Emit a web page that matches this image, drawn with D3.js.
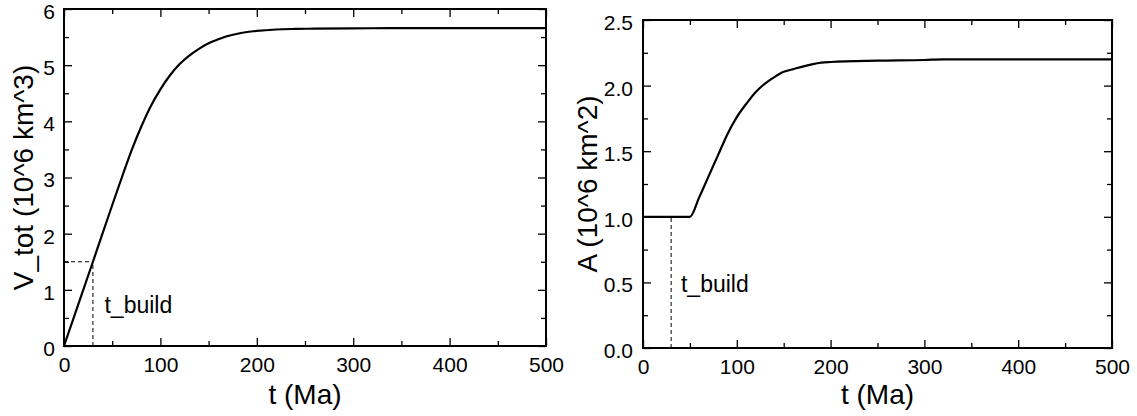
<!DOCTYPE html>
<html>
<head>
<meta charset="utf-8">
<script src="https://cdn.jsdelivr.net/npm/d3@7"></script>
<style>
  html, body { margin: 0; padding: 0; background: #fff; }
  svg { display: block; font-family: "Liberation Sans", Arial, Helvetica, sans-serif; }
</style>
</head>
<body>
<svg id="chart" width="1137" height="416"></svg>
<script>
// ---- Data ----
const tV = [0, 30, 60, 70, 80, 90, 100, 110, 120, 130, 140, 150, 160, 170, 180, 190, 200, 220, 240, 260, 300, 340, 400, 500];
const vTot = [0, 1.5, 3.0, 3.48, 3.9, 4.27, 4.57, 4.82, 5.02, 5.17, 5.29, 5.39, 5.46, 5.52, 5.56, 5.59, 5.61, 5.635, 5.645, 5.65, 5.655, 5.66, 5.66, 5.66];

const tA = [0, 50, 60, 70, 80, 90, 100, 110, 120, 130, 140, 150, 160, 170, 180, 190, 200, 250, 300, 320, 500];
const areaA = [1.0, 1.0, 1.15, 1.31, 1.47, 1.63, 1.76, 1.86, 1.95, 2.015, 2.065, 2.105, 2.125, 2.145, 2.162, 2.175, 2.18, 2.19, 2.195, 2.2, 2.2];

const tBuild = 30;
const vAtBuild = 1.5;
const aAtBuild = 1.0;

const xMajorTicks = [0, 100, 200, 300, 400, 500];
const xMinorTicks = [50, 150, 250, 350, 450];
const vMajorTicks = [0, 1, 2, 3, 4, 5, 6];
const vMinorTicks = [0.5, 1.5, 2.5, 3.5, 4.5, 5.5];
const aMajorTicks = [0, 0.5, 1.0, 1.5, 2.0, 2.5];
const aMinorTicks = [0.25, 0.75, 1.25, 1.75, 2.25];

const xTitle = "t (Ma)";
const vTitle = "V_tot (10^6 km^3)";
const aTitle = "A (10^6 km^2)";
const buildLabel = "t_build";

// ---- Drawing ----
const svg = d3.select("#chart");

function panel(opts) {
  const x = d3.scaleLinear().domain([0, 500]).range([opts.left, opts.right]);
  const y = d3.scaleLinear().domain(opts.yDomain).range([opts.bottom, opts.top]);
  const g = svg.append("g");
  const MAJ = 8, MIN = 5, FS = "21px";

  function styleAxis(sel) {
    sel.selectAll("path.domain").remove();
    sel.selectAll("line").attr("stroke", "#000").attr("stroke-width", 1.3);
    sel.selectAll("text").attr("fill", "#000").style("font-size", FS)
      .style("font-family", "'Liberation Sans', Arial, sans-serif");
  }

  // bottom
  g.append("g").attr("transform", `translate(0,${opts.bottom})`)
    .call(d3.axisBottom(x).tickValues(xMajorTicks).tickSizeInner(-MAJ).tickSizeOuter(0).tickPadding(11).tickFormat(d3.format("d")))
    .call(styleAxis);
  g.append("g").attr("transform", `translate(0,${opts.bottom})`)
    .call(d3.axisBottom(x).tickValues(xMinorTicks).tickSizeInner(-MIN).tickSizeOuter(0).tickFormat(""))
    .call(styleAxis);
  // top
  g.append("g").attr("transform", `translate(0,${opts.top})`)
    .call(d3.axisTop(x).tickValues(xMajorTicks).tickSizeInner(-MAJ).tickSizeOuter(0).tickFormat(""))
    .call(styleAxis);
  g.append("g").attr("transform", `translate(0,${opts.top})`)
    .call(d3.axisTop(x).tickValues(xMinorTicks).tickSizeInner(-MIN).tickSizeOuter(0).tickFormat(""))
    .call(styleAxis);
  // left
  g.append("g").attr("transform", `translate(${opts.left},0)`)
    .call(d3.axisLeft(y).tickValues(opts.yMajor).tickSizeInner(-MAJ).tickSizeOuter(0).tickPadding(opts.yPad).tickFormat(opts.yFmt))
    .call(styleAxis)
    .call(s => s.selectAll("text").attr("dy", "0.45em"));
  g.append("g").attr("transform", `translate(${opts.left},0)`)
    .call(d3.axisLeft(y).tickValues(opts.yMinor).tickSizeInner(-MIN).tickSizeOuter(0).tickFormat(""))
    .call(styleAxis);
  // right
  g.append("g").attr("transform", `translate(${opts.right},0)`)
    .call(d3.axisRight(y).tickValues(opts.yMajor).tickSizeInner(-MAJ).tickSizeOuter(0).tickFormat(""))
    .call(styleAxis);
  g.append("g").attr("transform", `translate(${opts.right},0)`)
    .call(d3.axisRight(y).tickValues(opts.yMinor).tickSizeInner(-MIN).tickSizeOuter(0).tickFormat(""))
    .call(styleAxis);

  // frame
  g.append("rect")
    .attr("x", x(0)).attr("y", y(opts.yDomain[1]))
    .attr("width", x(500) - x(0)).attr("height", y(opts.yDomain[0]) - y(opts.yDomain[1]))
    .attr("fill", "none").attr("stroke", "#000").attr("stroke-width", 2);

  // dashed t_build guides
  const dash = g.append("g").attr("stroke", "#000").attr("stroke-width", 1).attr("stroke-dasharray", "4,3").attr("fill", "none");
  dash.append("line").attr("x1", x(tBuild)).attr("x2", x(tBuild)).attr("y1", y(0)).attr("y2", y(opts.buildY));
  if (opts.hGuide) {
    dash.append("line").attr("x1", x(0)).attr("x2", x(tBuild)).attr("y1", y(opts.buildY)).attr("y2", y(opts.buildY));
  }

  // curve
  const pts = opts.t.map((d, i) => [d, opts.v[i]]);
  g.append("path").datum(pts)
    .attr("d", d3.line().x(d => x(d[0])).y(d => y(d[1])).curve(d3.curveMonotoneX))
    .attr("fill", "none").attr("stroke", "#000").attr("stroke-width", 2.2).attr("stroke-linejoin", "round");

  // t_build label
  g.append("text").attr("x", x(opts.labelPos[0])).attr("y", y(opts.labelPos[1]))
    .style("font-size", "23px").attr("fill", "#000").text(buildLabel);

  // axis titles
  g.append("text").attr("x", (opts.left + opts.right) / 2).attr("y", 404)
    .attr("text-anchor", "middle").style("font-size", "28px").attr("fill", "#000").text(xTitle);
  g.append("text")
    .attr("transform", `translate(${opts.yTitleX},${(opts.top + opts.bottom) / 2}) rotate(-90)`)
    .attr("text-anchor", "middle").style("font-size", "28px").attr("fill", "#000").text(opts.yTitle);
}

panel({
  left: 64, right: 546, top: 9, bottom: 346,
  yDomain: [0, 6], yMajor: vMajorTicks, yMinor: vMinorTicks, yFmt: d3.format("d"), yPad: 9,
  t: tV, v: vTot, buildY: vAtBuild, hGuide: true, labelPos: [42, 0.59],
  yTitle: vTitle, yTitleX: 33
});

panel({
  left: 643, right: 1112, top: 20, bottom: 348,
  yDomain: [0, 2.5], yMajor: aMajorTicks, yMinor: aMinorTicks, yFmt: d3.format(".1f"), yPad: 10,
  t: tA, v: areaA, buildY: aAtBuild, hGuide: false, labelPos: [40.5, 0.43],
  yTitle: aTitle, yTitleX: 597
});
</script>
</body>
</html>
